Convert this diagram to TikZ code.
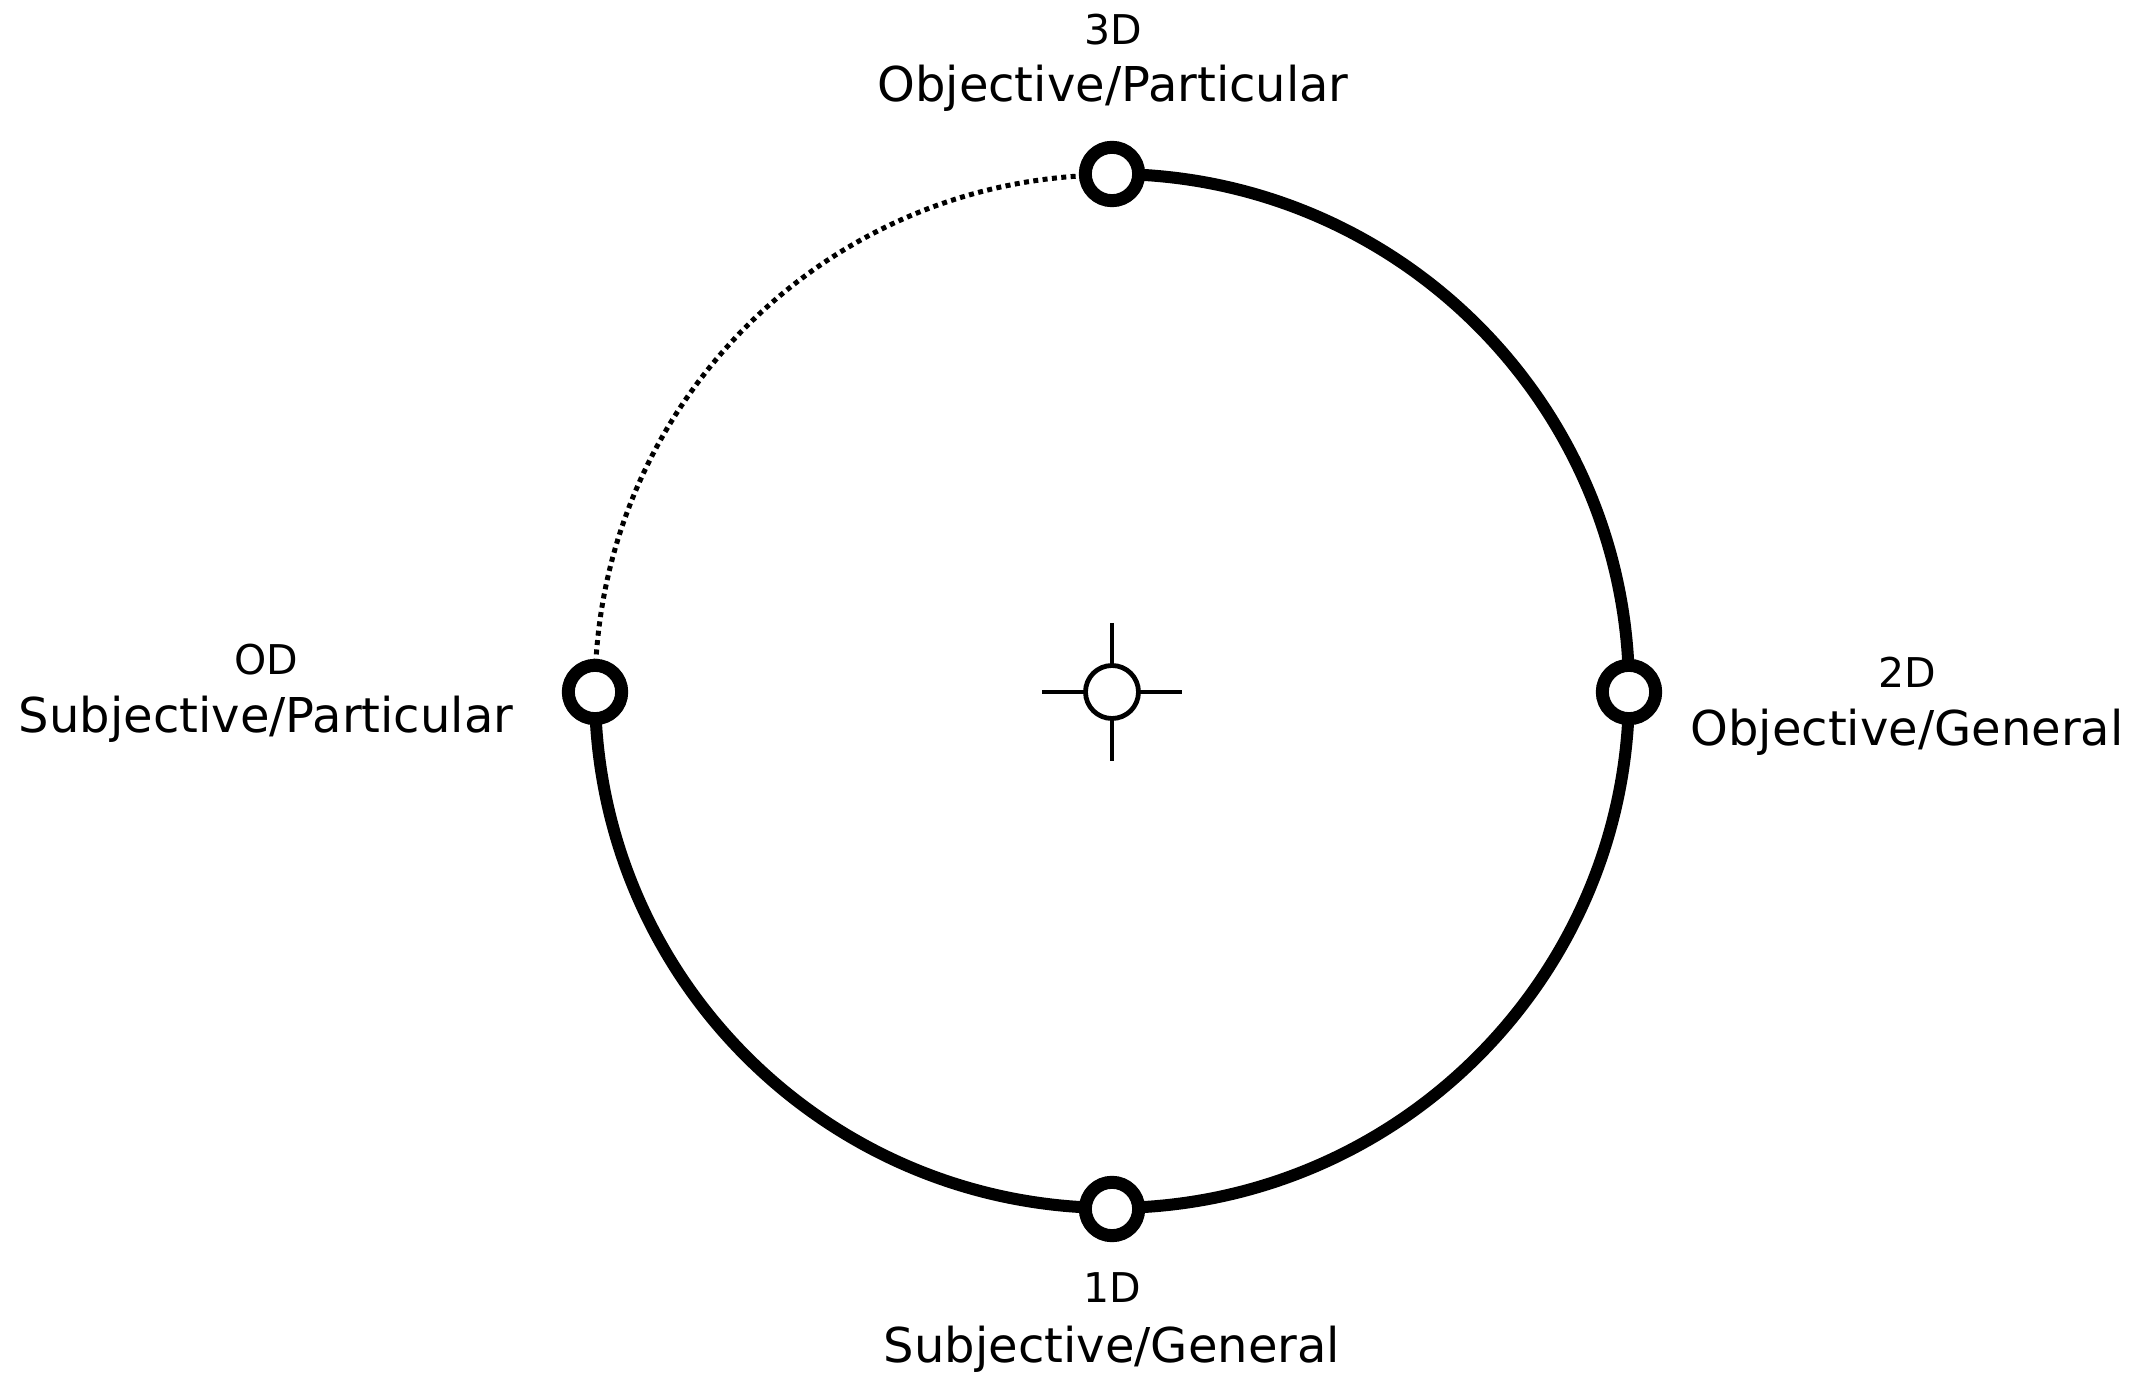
\documentclass[tikz,border=0pt]{standalone}
\usepackage{fontspec}
\setmainfont{DejaVu Sans}
\begin{document}
\begin{tikzpicture}[x=0.5pt,y=0.5pt,
  ring/.style={circle,draw=black,fill=white,line width=6.5pt,minimum size=26.7pt,inner sep=0pt},
  hub/.style={circle,draw=black,fill=white,line width=2.4pt,minimum size=26.5pt,inner sep=0pt},
  mainarc/.style={line width=6pt},
  dotarc/.style={line width=2.5pt,dash pattern=on 2.5pt off 2.2pt},
  tick/.style={line width=2.4pt},
  small/.style={font=\fontsize{20.5}{24}\selectfont,anchor=base,inner sep=0pt},
  big/.style={font=\fontsize{24}{28}\selectfont,anchor=base,inner sep=0pt}]
\useasboundingbox (0,0) rectangle (2149,1377);
\coordinate (c) at (1112,685);
\coordinate (ptop) at (1112,1203);
\coordinate (pleft) at (595,685);
% arcs
\draw[mainarc] (ptop) arc[start angle=90,end angle=-180,radius=258.5pt];
\draw[dotarc] (pleft) arc[start angle=180,end angle=90,radius=258.5pt];
% crosshair
\coordinate (hl) at (1042,685);
\coordinate (hr) at (1182,685);
\coordinate (vt) at (1112,754);
\coordinate (vb) at (1112,616);
\draw[tick] (hl) -- (hr);
\draw[tick] (vt) -- (vb);
\node[hub] (hub) at (c) {};
% ring nodes
\node[ring] (top) at (ptop) {};
\node[ring] (right) at (1629,685) {};
\node[ring] (bottom) at (1112,168) {};
\node[ring] (left) at (pleft) {};
% labels
\node[small] (t1) at (1113,1332) {3D};
\node[big] (t2) at (1113,1275) {Objective/Particular};
\node[small] (b1) at (1112,74) {1D};
\node[big] (b2) at (1112,14) {Subjective/General};
\node[small] (l1) at (266,702) {OD};
\node[big] (l2) at (266,644) {Subjective/Particular};
\node[small] (r1) at (1907,689) {2D};
\node[big] (r2) at (1907,631) {Objective/General};
\end{tikzpicture}
\end{document}
